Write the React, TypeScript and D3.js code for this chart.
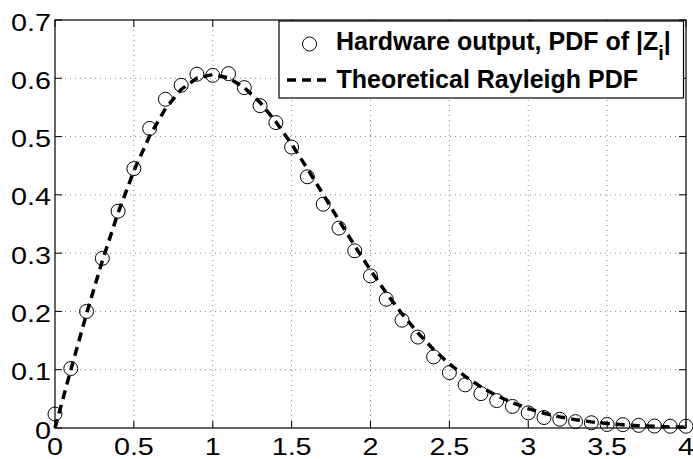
import React from "react";
import * as d3 from "d3";

const xValues = [0, 0.1, 0.2, 0.3, 0.4, 0.5, 0.6, 0.7, 0.8, 0.9, 1.0, 1.1, 1.2, 1.3, 1.4, 1.5, 1.6, 1.7, 1.8, 1.9, 2.0, 2.1, 2.2, 2.3, 2.4, 2.5, 2.6, 2.7, 2.8, 2.9, 3.0, 3.1, 3.2, 3.3, 3.4, 3.5, 3.6, 3.7, 3.8, 3.9, 4.0];
const hardwarePdf = [0.024, 0.102, 0.2, 0.291, 0.372, 0.445, 0.514, 0.564, 0.588, 0.607, 0.605, 0.608, 0.584, 0.553, 0.524, 0.482, 0.431, 0.384, 0.343, 0.304, 0.261, 0.221, 0.185, 0.156, 0.122, 0.095, 0.074, 0.059, 0.047, 0.037, 0.026, 0.018, 0.015, 0.011, 0.009, 0.006, 0.0057, 0.0045, 0.0034, 0.003, 0.003];
const rayleighPdf = [0, 0.0995, 0.196, 0.2868, 0.3692, 0.4412, 0.5012, 0.5479, 0.5809, 0.6003, 0.6065, 0.6007, 0.5841, 0.5585, 0.5254, 0.487, 0.4448, 0.4007, 0.3562, 0.3125, 0.2707, 0.2316, 0.1956, 0.1633, 0.1347, 0.1098, 0.0885, 0.0706, 0.0555, 0.0433, 0.0333, 0.0254, 0.0191, 0.0143, 0.0105, 0.0077, 0.0055, 0.0039, 0.0028, 0.0019, 0.0013];
const xTicks = [0, 0.5, 1, 1.5, 2, 2.5, 3, 3.5, 4];
const xTickLabels = ["0", "0.5", "1", "1.5", "2", "2.5", "3", "3.5", "4"];
const yTicks = [0, 0.1, 0.2, 0.3, 0.4, 0.5, 0.6, 0.7];
const yTickLabels = ["0", "0.1", "0.2", "0.3", "0.4", "0.5", "0.6", "0.7"];
const legendLabels = ["Hardware output, PDF of |Z", "Theoretical Rayleigh PDF"];

export default function App() {
  const left = 55, right = 686, top = 20, bottom = 428;
  const x = d3.scaleLinear().domain([0, 4]).range([left, right]);
  const y = d3.scaleLinear().domain([0, 0.7]).range([bottom, top]);
  const line = d3.line<number>().x((_, i) => x(xValues[i])).y((d) => y(d));
  const font = "'Liberation Sans', Arial, Helvetica, sans-serif";
  const sx = 1.25;
  return (
    <svg width={693} height={459} style={{ position: "absolute", left: 0, top: 0, background: "#fff" }} fontFamily={font}>
      <rect x={0} y={0} width={693} height={459} fill="#fff" />
      {/* grid */}
      {xTicks.slice(1, -1).map((t) => (
        <line key={"gx" + t} x1={x(t)} x2={x(t)} y1={top} y2={bottom} stroke="#888" strokeWidth={1} strokeDasharray="1,4" />
      ))}
      {yTicks.slice(1, -1).map((t) => (
        <line key={"gy" + t} x1={left} x2={right} y1={y(t)} y2={y(t)} stroke="#888" strokeWidth={1} strokeDasharray="1,4" />
      ))}
      {/* ticks */}
      {xTicks.map((t) => (
        <g key={"tx" + t}>
          <line x1={x(t)} x2={x(t)} y1={bottom} y2={bottom - 7} stroke="#000" />
          <line x1={x(t)} x2={x(t)} y1={top} y2={top + 7} stroke="#000" />
        </g>
      ))}
      {yTicks.map((t) => (
        <g key={"ty" + t}>
          <line x1={left} x2={left + 7} y1={y(t)} y2={y(t)} stroke="#000" />
          <line x1={right} x2={right - 7} y1={y(t)} y2={y(t)} stroke="#000" />
        </g>
      ))}
      {/* box */}
      <rect x={left} y={top} width={right - left} height={bottom - top} fill="none" stroke="#000" strokeWidth={1.2} />
      {/* tick labels */}
      {xTicks.map((t, i) => (
        <text key={"lx" + t} transform={`translate(${x(t)},${455}) scale(${sx},1)`} textAnchor="middle" fontSize={23} fill="#000">
          {xTickLabels[i]}
        </text>
      ))}
      {yTicks.map((t, i) => (
        <text key={"ly" + t} transform={`translate(${51},${y(t) + 10.5}) scale(${sx},1)`} textAnchor="end" fontSize={23} fill="#000">
          {yTickLabels[i]}
        </text>
      ))}
      {/* theoretical line */}
      <path d={line(rayleighPdf) || ""} fill="none" stroke="#000" strokeWidth={3.5} strokeDasharray="9,6" />
      {/* hardware points */}
      {hardwarePdf.map((v, i) => (
        <circle key={"p" + i} cx={x(xValues[i])} cy={y(v)} r={7} fill="none" stroke="#000" strokeWidth={1} />
      ))}
      {/* legend */}
      <rect x={279} y={21} width={404.5} height={77} fill="#fff" stroke="#000" strokeWidth={1.2} />
      <circle cx={309.5} cy={44} r={7} fill="none" stroke="#000" strokeWidth={1} />
      <text x={336} y={49.5} fontSize={25} fontWeight="bold" fill="#000">
        {legendLabels[0]}
        <tspan fontSize={20} dy={10}>i</tspan>
        <tspan fontSize={25} dy={-10}>|</tspan>
      </text>
      <line x1={287} x2={332} y1={80} y2={80} stroke="#000" strokeWidth={3.5} strokeDasharray="9,6" />
      <text x={336.5} y={88} fontSize={25} fontWeight="bold" fill="#000">
        {legendLabels[1]}
      </text>
    </svg>
  );
}
